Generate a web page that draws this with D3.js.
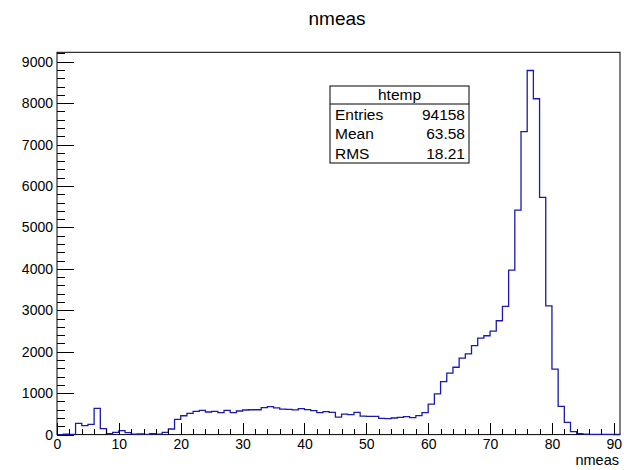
<!DOCTYPE html>
<html>
<head>
<meta charset="utf-8">
<script src="https://cdn.jsdelivr.net/npm/d3@7"></script>
<style>
  html, body { margin: 0; padding: 0; background: #fff; }
  svg { display: block; font-family: "Liberation Sans", Arial, Helvetica, sans-serif; }
  .axis path { display: none; }
  .axis line { stroke: #000; stroke-width: 1; shape-rendering: crispEdges; }
  .axis text { font-size: 14px; fill: #000; }
</style>
</head>
<body>
<svg id="chart" width="624" height="470"></svg>
<script>
// Histogram of nmeas: 91 bins of width 1 starting at 0
const binLow = 0;
const binWidth = 1;
const counts = [
  0, 8, 5, 272, 215, 248, 634, 142, 20, 55,
  94, 46, 10, 15, 5, 20, 10, 55, 135, 369,
  455, 513, 561, 585, 545, 561, 528, 585, 528, 569,
  594, 600, 600, 650, 675, 643, 617, 610, 595, 625,
  602, 578, 530, 553, 538, 424, 496, 480, 538, 448,
  440, 440, 393, 385, 400, 417, 432, 409, 456, 530,
  733, 985, 1280, 1485, 1625, 1847, 1947, 2145, 2330, 2385,
  2495, 2747, 3094, 3969, 5415, 7310, 8786, 8104, 5725, 3106,
  1581, 680, 296, 70, 22, 10, 5, 6, 4, 5,
  3
];
const xMajorTicks = [0, 10, 20, 30, 40, 50, 60, 70, 80, 90];
const yMajorTicks = [0, 1000, 2000, 3000, 4000, 5000, 6000, 7000, 8000, 9000];
const titleText = "nmeas";
const xTitle = "nmeas";
const statsName = "htemp";
const statsLabels = ["Entries", "Mean", "RMS"];
const statsValues = ["94158", "63.58", "18.21"];

const svg = d3.select("#chart");
const frame = { left: 57, right: 620, top: 52.3, bottom: 434.6 };

const xMax = binLow + binWidth * counts.length;
const x = d3.scaleLinear().domain([binLow, xMax]).range([frame.left, frame.right]);
const y = d3.scaleLinear().domain([0, d3.max(counts) * 1.05]).range([frame.bottom, frame.top]);

// frame box
svg.append("rect")
  .attr("x", frame.left).attr("y", frame.top)
  .attr("width", frame.right - frame.left).attr("height", frame.bottom - frame.top)
  .attr("fill", "none").attr("stroke", "#000").attr("stroke-width", 1);

// histogram outline drawn as steps
const pts = [[x(binLow), y(0)]];
counts.forEach((c, i) => {
  const lo = binLow + i * binWidth;
  pts.push([x(lo), y(c)]);
  pts.push([x(lo + binWidth), y(c)]);
});
pts.push([x(xMax), y(0)]);
svg.append("path")
  .attr("d", d3.line()(pts))
  .attr("fill", "none")
  .attr("stroke", "#1a1ab0")
  .attr("stroke-width", 1.3);

// y axis: major ticks with labels, minor ticks every 200
const yTickLen = 0.03 * (frame.right - frame.left);
const yMinor = d3.range(0, y.domain()[1], 200).filter(v => v % 1000 !== 0);
svg.append("g").attr("class", "axis")
  .attr("transform", `translate(${frame.left},0)`)
  .call(d3.axisLeft(y).tickValues(yMinor).tickSizeInner(-yTickLen / 2).tickSizeOuter(0).tickFormat(""));
svg.append("g").attr("class", "axis")
  .attr("transform", `translate(${frame.left},0)`)
  .call(d3.axisLeft(y).tickValues(yMajorTicks).tickSizeInner(-yTickLen).tickSizeOuter(0)
    .tickPadding(4).tickFormat(d3.format("d")));

// x axis: major ticks every 10, minor every 2
const xTickLen = 0.03 * (frame.bottom - frame.top);
const xMinor = d3.range(0, xMax, 2).filter(v => v % 10 !== 0);
svg.append("g").attr("class", "axis")
  .attr("transform", `translate(0,${frame.bottom})`)
  .call(d3.axisBottom(x).tickValues(xMinor).tickSizeInner(-xTickLen / 2).tickSizeOuter(0).tickFormat(""));
svg.append("g").attr("class", "axis")
  .attr("transform", `translate(0,${frame.bottom})`)
  .call(d3.axisBottom(x).tickValues(xMajorTicks).tickSizeInner(-xTickLen).tickSizeOuter(0)
    .tickPadding(4).tickFormat(d3.format("d")));

// titles
svg.append("text")
  .attr("x", 337).attr("y", 25)
  .attr("text-anchor", "middle")
  .attr("font-size", 19)
  .text(titleText);
svg.append("text")
  .attr("x", frame.right - 1).attr("y", 465)
  .attr("text-anchor", "end")
  .attr("font-size", 14.5)
  .text(xTitle);

// statistics box
const box = { x: 330, y: 86, w: 139, h: 77, header: 104 };
const stats = svg.append("g");
stats.append("rect")
  .attr("x", box.x).attr("y", box.y).attr("width", box.w).attr("height", box.h)
  .attr("fill", "#fff").attr("stroke", "#000").attr("stroke-width", 1);
stats.append("line")
  .attr("x1", box.x).attr("x2", box.x + box.w)
  .attr("y1", box.header).attr("y2", box.header)
  .attr("stroke", "#000").attr("stroke-width", 1);
stats.append("text")
  .attr("x", box.x + box.w / 2).attr("y", box.header - 4)
  .attr("text-anchor", "middle").attr("font-size", 15.5)
  .text(statsName);
const rowH = (box.y + box.h - box.header) / statsLabels.length;
statsLabels.forEach((lab, i) => {
  const by = box.header + rowH * (i + 1) - 4;
  stats.append("text").attr("x", box.x + 5).attr("y", by)
    .attr("font-size", 15.5).text(lab);
  stats.append("text").attr("x", box.x + box.w - 4).attr("y", by)
    .attr("text-anchor", "end").attr("font-size", 15.5).text(statsValues[i]);
});
</script>
</body>
</html>
